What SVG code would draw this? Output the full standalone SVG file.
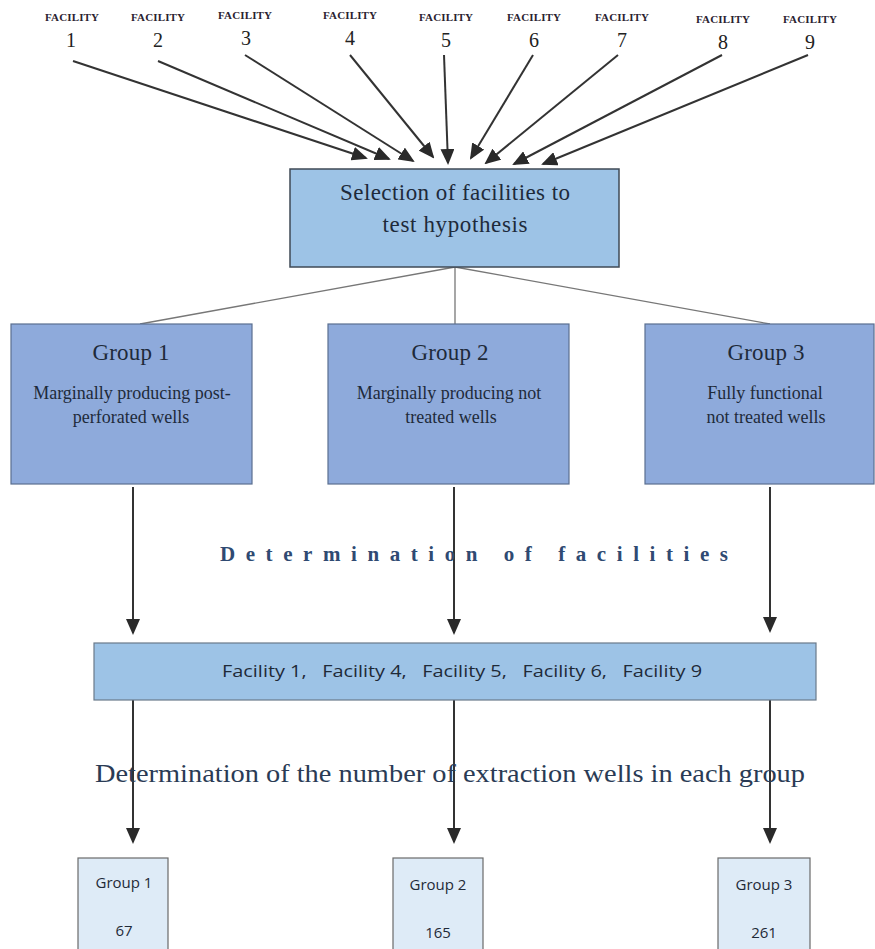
<svg xmlns="http://www.w3.org/2000/svg" width="875" height="949" viewBox="0 0 875 949">
<style>
.fac{font-family:"Liberation Serif",serif;font-size:11px;fill:#2a2230;text-anchor:middle;font-weight:bold}
.num{font-family:"Liberation Serif",serif;font-size:20px;fill:#222;text-anchor:middle}
.ser{font-family:"Liberation Serif",serif;fill:#1e2a3a;text-anchor:middle}
.san{font-family:"Open Sans","Noto Sans",sans-serif;fill:#1f2a38;text-anchor:middle}
.arr{stroke:#333;stroke-width:2;fill:none;marker-end:url(#ah)}
.thin{stroke:#777;stroke-width:1.3;fill:none}
</style>
<defs>
<marker id="ah" markerUnits="userSpaceOnUse" markerWidth="16" markerHeight="14" refX="14" refY="7" orient="auto">
<path d="M0,0 L16,7 L0,14 Z" fill="#2a2a2a"/>
</marker>
</defs>
<rect width="875" height="949" fill="#fff"/>
<g id="facilities-top">
<text class="fac" x="72" y="21" textLength="54">FACILITY</text><text class="num" x="71" y="47">1</text>
<text class="fac" x="158" y="21" textLength="54">FACILITY</text><text class="num" x="158" y="47">2</text>
<text class="fac" x="245" y="19" textLength="54">FACILITY</text><text class="num" x="246" y="45">3</text>
<text class="fac" x="350" y="19" textLength="54">FACILITY</text><text class="num" x="350" y="45">4</text>
<text class="fac" x="446" y="21" textLength="54">FACILITY</text><text class="num" x="446" y="47">5</text>
<text class="fac" x="534" y="21" textLength="54">FACILITY</text><text class="num" x="534" y="47">6</text>
<text class="fac" x="622" y="21" textLength="54">FACILITY</text><text class="num" x="622" y="47">7</text>
<text class="fac" x="723" y="23" textLength="54">FACILITY</text><text class="num" x="723" y="49">8</text>
<text class="fac" x="810" y="23" textLength="54">FACILITY</text><text class="num" x="810" y="49">9</text>
</g>
<g id="connectors">
<line class="arr" x1="73" y1="61" x2="366" y2="158"/>
<line class="arr" x1="158" y1="61" x2="389" y2="159"/>
<line class="arr" x1="245" y1="55" x2="413" y2="161"/>
<line class="arr" x1="350" y1="55" x2="433" y2="157"/>
<line class="arr" x1="444" y1="55" x2="448" y2="163"/>
<line class="arr" x1="533" y1="55" x2="471" y2="158"/>
<line class="arr" x1="618" y1="55" x2="486" y2="163"/>
<line class="arr" x1="722" y1="55" x2="514" y2="164"/>
<line class="arr" x1="808" y1="55" x2="543" y2="164"/>
<line class="thin" x1="455" y1="267" x2="140" y2="324"/>
<line class="thin" x1="455" y1="267" x2="455" y2="324"/>
<line class="thin" x1="455" y1="267" x2="770" y2="324"/>
<line class="arr" x1="133" y1="487" x2="133" y2="633"/>
<line class="arr" x1="454" y1="487" x2="454" y2="633"/>
<line class="arr" x1="770" y1="487" x2="770" y2="631"/>
<line class="arr" x1="133" y1="700" x2="133" y2="842"/>
<line class="arr" x1="454" y1="700" x2="454" y2="842"/>
<line class="arr" x1="770" y1="700" x2="770" y2="842"/>
</g>
<g id="selection">
<rect x="290" y="169" width="329" height="98" fill="#9dc3e6" stroke="#3f4a56" stroke-width="1.5"/>
<text class="ser" x="455" y="200" font-size="23" textLength="230">Selection of facilities to</text>
<text class="ser" x="455" y="232" font-size="23" textLength="145">test hypothesis</text>
</g>
<g id="group1">
<rect x="11" y="324" width="241" height="160" fill="#8eaadb" stroke="#5a6f90" stroke-width="1.2"/>
<text class="ser" x="131" y="360" font-size="23" textLength="77">Group 1</text>
<text class="ser" x="132" y="399" font-size="18">Marginally producing post-</text>
<text class="ser" x="131" y="423" font-size="18">perforated wells</text>
</g>
<g id="group2">
<rect x="328" y="324" width="241" height="160" fill="#8eaadb" stroke="#5a6f90" stroke-width="1.2"/>
<text class="ser" x="450" y="360" font-size="23" textLength="77">Group 2</text>
<text class="ser" x="449" y="399" font-size="18">Marginally producing not</text>
<text class="ser" x="451" y="423" font-size="18">treated wells</text>
</g>
<g id="group3">
<rect x="645" y="324" width="229" height="160" fill="#8eaadb" stroke="#5a6f90" stroke-width="1.2"/>
<text class="ser" x="766" y="360" font-size="23" textLength="77">Group 3</text>
<text class="ser" x="765" y="399" font-size="18">Fully functional</text>
<text class="ser" x="766" y="423" font-size="18">not treated wells</text>
</g>
<g id="label-determination">
<text x="220" y="561" font-family="Liberation Serif,serif" font-size="21" font-weight="bold" fill="#2f4a72" textLength="508" lengthAdjust="spacing">Determination of facilities</text>
</g>
<g id="facility-list">
<rect x="94" y="643" width="722" height="57" fill="#9dc3e6" stroke="#6a7a8a" stroke-width="1.2"/>
<text class="san" x="462" y="677" font-size="17" xml:space="preserve" textLength="480" lengthAdjust="spacingAndGlyphs">Facility 1,   Facility 4,   Facility 5,   Facility 6,   Facility 9</text>
</g>
<g id="label-count">
<text x="95" y="782" font-family="Liberation Serif,serif" font-size="25" fill="#2a3b55" textLength="710" lengthAdjust="spacingAndGlyphs">Determination of the number of extraction wells in each group</text>
</g>
<g id="count1">
<rect x="78" y="858" width="90" height="92" fill="#deebf7" stroke="#6a6a6a" stroke-width="1.2"/>
<text class="san" x="124" y="888" font-size="15">Group 1</text>
<text class="san" x="124" y="936" font-size="15">67</text>
</g>
<g id="count2">
<rect x="393" y="858" width="90" height="92" fill="#deebf7" stroke="#6a6a6a" stroke-width="1.2"/>
<text class="san" x="438" y="890" font-size="15">Group 2</text>
<text class="san" x="438" y="938" font-size="15">165</text>
</g>
<g id="count3">
<rect x="718" y="858" width="92" height="92" fill="#deebf7" stroke="#6a6a6a" stroke-width="1.2"/>
<text class="san" x="764" y="890" font-size="15">Group 3</text>
<text class="san" x="764" y="938" font-size="15">261</text>
</g>
</svg>
